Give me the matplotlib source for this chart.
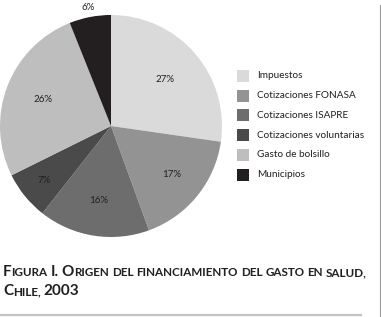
import matplotlib.pyplot as plt
import numpy as np
from matplotlib.font_manager import FontProperties

# datos del gráfico
categorias = ['Impuestos', 'Cotizaciones FONASA', 'Cotizaciones ISAPRE',
              'Cotizaciones voluntarias', 'Gasto de bolsillo', 'Municipios']
porcentajes = [27, 17, 16, 7, 26, 6]
colores = ['#dadada', '#939393', '#6d6d6d', '#4a4a4a', '#bebebe', '#231f20']

fig = plt.figure(figsize=(3.81, 3.17), dpi=100)
W, H = 381, 317

# pie
ax = fig.add_axes([0 / W, (H - 237) / H, 222 / W, 222 / H])
wedges, _ = ax.pie(porcentajes, colors=colores, startangle=90, counterclock=False,
                   wedgeprops=dict(linewidth=0))
ax.set_xlim(-1, 1)
ax.set_ylim(-1, 1)
ax.set_aspect('equal')
distancias = [0.64, 0.70, 0.68, 0.78, 0.66, 1.09]
for w, p, d in zip(wedges, porcentajes, distancias):
    ang = np.deg2rad((w.theta1 + w.theta2) / 2)
    ax.text(d * np.cos(ang), d * np.sin(ang), f'{p}%', ha='center', va='center',
            fontsize=7, family='Lato', color='#231f20', clip_on=False)

# leyenda
for i, (c, col) in enumerate(zip(categorias, colores)):
    y = 76 + i * 19.7
    fig.patches.append(plt.Rectangle(((237) / W, (H - y - 6) / H), 12 / W, 12 / H,
                                     transform=fig.transFigure, facecolor=col,
                                     edgecolor='none'))
    fig.text(257 / W, (H - y) / H, c, fontsize=7.2, family='Lato', va='center',
             color='#231f20')


# titulo en versalitas
def versalitas(x, y, texto):
    r = fig.canvas.get_renderer()
    for palabra in texto.split(' '):
        # separar en tramos mayúsculas / minúsculas; la puntuación sigue al tramo actual
        tramos = []
        for ch in palabra:
            grande = ch.isupper() if ch.isalpha() else (tramos[-1][1] if tramos else True)
            if tramos and tramos[-1][1] == grande:
                tramos[-1][0] += ch
            else:
                tramos.append([ch, grande])
        for seg, grande in tramos:
            size = 11 if grande else 8.4
            seg = seg.upper()
            fig.text(x / W, (H - y) / H, seg, fontsize=size,
                     family='Lato', weight='bold', color='#231f20',
                     va='baseline')
            fp = FontProperties(family='Lato', weight='bold', size=size)
            w_, _, _ = r.get_text_width_height_descent(seg, fp, ismath=False)
            x += w_
        x += 3.0


versalitas(3, 276, 'Figura I. Origen del financiamiento del gasto en salud,')
versalitas(3, 295, 'Chile, 2003')

# lineas de borde
fig.add_artist(plt.Line2D([0, 361 / W], [(H - 314.5) / H] * 2, color='#c4c4c4', lw=1.6))
fig.add_artist(plt.Line2D([380 / W] * 2, [0, (H - 5) / H], color='#9a9a9a', lw=0.8))

fig.savefig('out.png', dpi=100)
